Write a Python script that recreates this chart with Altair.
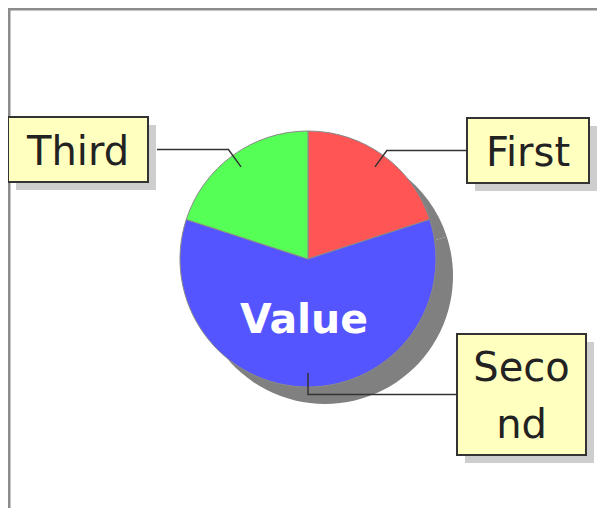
import math
import altair as alt
import pandas as pd

# ---- data ----
categories = ["First", "Second", "Third"]
values = [20, 60, 20]
colors = ["#ff5555", "#5555ff", "#55ff55"]
label_texts = ["First", "Seco\nnd", "Third"]
title_text = "Value"

# ---- layout (pixels in chart coordinates) ----
W, H = 589, 500
CX, CY, R = 300, 251, 128
SHADOW_DX, SHADOW_DY = 17, 17
ANCHOR_F = 0.89
BOXES = {  # x, y, x2, y2
    "First": (459, 110, 581, 175),
    "Second": (449, 326, 578, 447),
    "Third": (0, 109, 140, 174),
}
BOX_SHADOW = 8
LINE_GAP = 9
LINE_H = 57
TEXT_DY = 3

pie_df = pd.DataFrame({"category": categories, "value": values,
                       "idx": list(range(len(categories)))})

# leader lines computed from slice mid-angles
total = sum(values)
rows = []
box_rows = []
cum = 0
for cat, v, txt in zip(categories, values, label_texts):
    mid = (cum + v / 2) / total * 2 * math.pi
    cum += v
    sx, sy = math.sin(mid), -math.cos(mid)
    ax, ay = CX + ANCHOR_F * R * sx, CY + ANCHOR_F * R * sy
    bx, by, bx2, by2 = BOXES[cat]
    bcy = (by + by2) / 2
    if abs(sy) > 1e-6:
        t = (bcy - CY) / sy
        ex = CX + t * sx
    else:
        ex = ax
    if bx > CX:
        endx = bx
    else:
        endx = bx2 + LINE_GAP
    rows += [
        {"cat": cat, "step": 0, "x": ax, "y": ay},
        {"cat": cat, "step": 1, "x": ex, "y": bcy},
        {"cat": cat, "step": 2, "x": endx, "y": bcy},
    ]
    nlines = txt.count("\n") + 1
    box_rows.append({"cat": cat, "x": bx, "y": by, "x2": bx2, "y2": by2,
                     "sx": bx + BOX_SHADOW, "sy": by + BOX_SHADOW,
                     "sx2": bx2 + BOX_SHADOW, "sy2": by2 + BOX_SHADOW,
                     "text": txt, "tx": (bx + bx2) / 2,
                     "ty": bcy - (nlines - 1) * LINE_H / 2 + TEXT_DY})
lead_df = pd.DataFrame(rows)
box_df = pd.DataFrame(box_rows)
one = pd.DataFrame({"t": [title_text]})

frame_left = alt.Chart(one).mark_rule(color="#8c8c8c", strokeWidth=3).encode(
    x=alt.value(1), y=alt.value(0), y2=alt.value(H))
frame_top = alt.Chart(one).mark_rule(color="#8c8c8c", strokeWidth=3).encode(
    x=alt.value(0), x2=alt.value(W), y=alt.value(1))

pie_shadow = alt.Chart(pie_df).mark_arc(radius=R, color="#808080").encode(
    theta=alt.Theta("value:Q", stack=True),
    order=alt.Order("idx:Q"),
    x=alt.value(CX + SHADOW_DX), y=alt.value(CY + SHADOW_DY))

pie = alt.Chart(pie_df).mark_arc(radius=R, stroke="#8a8a8a", strokeWidth=1).encode(
    theta=alt.Theta("value:Q", stack=True),
    order=alt.Order("idx:Q"),
    color=alt.Color("category:N", scale=alt.Scale(domain=categories, range=colors), legend=None),
    x=alt.value(CX), y=alt.value(CY))

leaders = alt.Chart(lead_df).mark_line(color="#333333", strokeWidth=1.5).encode(
    x=alt.X("x:Q", scale=None), y=alt.Y("y:Q", scale=None),
    detail="cat:N", order="step:Q")

box_shadow = alt.Chart(box_df).mark_rect(color="#c6c6c6", opacity=0.85).encode(
    x=alt.X("sx:Q", scale=None), x2="sx2:Q",
    y=alt.Y("sy:Q", scale=None), y2="sy2:Q")

boxes = alt.Chart(box_df).mark_rect(fill="#ffffc0", stroke="#333333", strokeWidth=2).encode(
    x=alt.X("x:Q", scale=None), x2="x2:Q",
    y=alt.Y("y:Q", scale=None), y2="y2:Q")

labels = alt.Chart(box_df).mark_text(
    font="DejaVu Sans", fontSize=40, lineBreak="\n", lineHeight=LINE_H,
    baseline="middle", align="center", color="#222222").encode(
    x=alt.X("tx:Q", scale=None), y=alt.Y("ty:Q", scale=None), text="text:N")

title = alt.Chart(one).mark_text(
    font="DejaVu Sans", fontSize=41, fontWeight="bold", color="white",
    baseline="middle", align="center").encode(
    x=alt.value(296), y=alt.value(313), text="t:N")

chart = alt.layer(frame_left, frame_top, pie_shadow, pie, leaders,
                  box_shadow, boxes, labels, title).properties(
    width=W, height=H, autosize=alt.AutoSizeParams(type="none"), padding=0,
    background="white"
).configure_view(stroke=None)

chart.save("out.html", embed_options={"renderer": "svg", "actions": False})
